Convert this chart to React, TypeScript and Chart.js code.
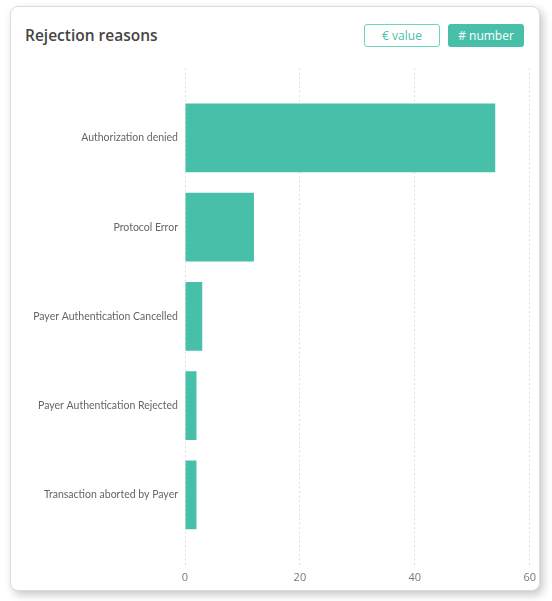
import { useEffect, useRef } from 'react';
import Chart from 'chart.js/auto';

const reasons = [
  'Authorization denied',
  'Protocol Error',
  'Payer Authentication Cancelled',
  'Payer Authentication Rejected',
  'Transaction aborted by Payer',
];
const counts = [54, 12, 3, 2, 2];
const xTicks = [0, 20, 40, 60];

const teal = '#48BFA9';
const font = '"Open Sans", "Noto Sans", sans-serif';
const labelFont = 'Lato, "Open Sans", sans-serif';

export default function App() {
  const chartRef = useRef<HTMLCanvasElement>(null);
  const chartInstance = useRef<Chart | null>(null);

  useEffect(() => {
    document.body.style.margin = '0';
    if (!chartRef.current) return;
    const ctx = chartRef.current.getContext('2d');
    if (!ctx) return;

    chartInstance.current = new Chart(ctx, {
      type: 'bar',
      data: {
        datasets: [
          {
            data: counts.map((c, i) => ({ x: c, y: i })),
            backgroundColor: teal,
            borderWidth: 0,
            categoryPercentage: 1,
            barPercentage: 0.77,
          },
        ],
      },
      options: {
        indexAxis: 'y',
        animation: false,
        responsive: false,
        maintainAspectRatio: false,
        layout: { padding: { top: 10, right: 9, left: 0, bottom: 0 } },
        plugins: { legend: { display: false }, tooltip: { enabled: false } },
        scales: {
          x: {
            type: 'linear',
            min: xTicks[0],
            max: xTicks[xTicks.length - 1],
            afterBuildTicks: (scale) => {
              scale.ticks = xTicks.map((v) => ({ value: v }));
            },
            afterFit: (scale) => {
              scale.height = 20;
            },
            grid: { color: '#d6d6d6', lineWidth: 1, drawTicks: false },
            border: { display: false, dash: [1.5, 3] },
            ticks: { color: '#777', padding: 3, font: { family: font, size: 11 } },
          },
          y: {
            type: 'linear',
            reverse: true,
            offset: false,
            min: -0.78,
            max: 4.82,
            afterBuildTicks: (scale) => {
              scale.ticks = reasons.map((_, i) => ({ value: i }));
            },
            afterFit: (scale) => {
              scale.width = 174;
            },
            grid: { display: false, drawTicks: false },
            border: { display: false },
            ticks: {
              color: '#666',
              padding: 7,
              font: { family: labelFont, size: 10.5 },
              callback: (v) => reasons[Number(v)] ?? '',
            },
          },
        },
      },
    });

    return () => {
      if (chartInstance.current) {
        chartInstance.current.destroy();
        chartInstance.current = null;
      }
    };
  }, []);

  const btn = {
    position: 'absolute' as const,
    top: 17,
    width: 76,
    height: 23,
    boxSizing: 'border-box' as const,
    borderRadius: 3,
    fontFamily: font,
    fontSize: 12,
    display: 'flex',
    alignItems: 'center',
    justifyContent: 'center',
  };

  return (
    <div style={{ position: 'relative', width: 552, height: 601, background: '#fff', overflow: 'hidden' }}>
      <div
        style={{
          position: 'absolute',
          left: 10,
          top: 6,
          width: 530,
          height: 585,
          boxSizing: 'border-box',
          border: '1px solid #dcdcdc',
          borderRadius: 8,
          background: '#fff',
          boxShadow: '3px 4px 8px rgba(0,0,0,0.22)',
        }}
      >
        <div
          style={{
            position: 'absolute',
            left: 14,
            top: 17,
            fontFamily: font,
            fontWeight: 600,
            fontSize: 15.5,
            color: '#444',
          }}
        >
          Rejection reasons
        </div>
        <div style={{ ...btn, left: 353, border: '1.5px solid #6fd3c2', color: teal }}>€ value</div>
        <div style={{ ...btn, left: 437, background: teal, color: '#fff' }}># number</div>
        <canvas
          ref={chartRef}
          width={528}
          height={533}
          style={{ position: 'absolute', left: 0, top: 48, width: 528, height: 533 }}
        ></canvas>
      </div>
    </div>
  );
}
